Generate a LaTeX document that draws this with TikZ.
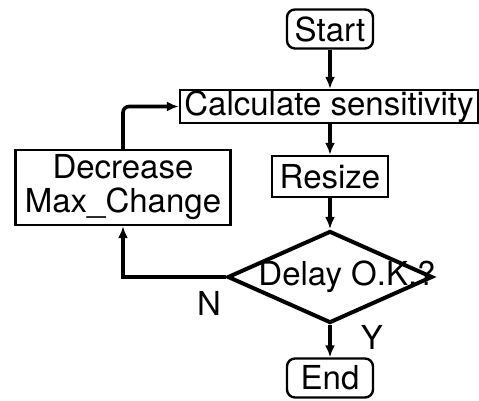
\documentclass[tikz,border=0pt]{standalone}
\usepackage{fontspec}
\setmainfont{TeX Gyre Heros}
\usetikzlibrary{arrows.meta, positioning, shapes.geometric}

\begin{document}
\begin{tikzpicture}[
    x=1pt, y=-1pt,
    >={Latex[length=12pt, width=10pt]},
    line width=3.6pt,
    font=\fontsize{33}{34}\selectfont,
    box/.style={draw, line width=2.4pt, inner sep=0pt},
    term/.style={box, rounded corners=8pt, minimum width=86pt, minimum height=39pt},
]
    \useasboundingbox (0,0) rectangle (479,401);

    % --- main column ---
    \node[term] (Start) at (330,29) {Start};
    \node[box, minimum width=298pt, minimum height=33pt] (Calc) at (329,106.5) {Calculate sensitivity};
    \node[box, minimum width=116pt, minimum height=41pt] (Resize) at (330,176.5) {Resize};
    \node[draw, diamond, line width=4pt, inner sep=0pt,
          minimum width=205pt, minimum height=92pt] (Check) at (330,277) {};
    \node (CheckText) at (347,277) {Delay O.K.?};
    \node[term] (End) at (330,378) {End};
    \node (Yes) at (372,337) {Y};
    \node (No) at (209,303) {N};

    % --- loop back ---
    \node[box, align=center, minimum width=215pt, minimum height=75pt] (Dec) at (123,187.5) {Decrease\\Max\_Change};

    \draw[->] (Start) -- (Calc.north -| Start);
    \draw[->] (Calc.south -| Resize) -- (Resize);
    \draw[->] (Resize) -- (Check);
    \draw[->] (Check) -- (End);
    \draw[->] (Check.west) -| (Dec);
    \draw[->, rounded corners=6pt] (Dec) |- (Calc);
\end{tikzpicture}
\end{document}
